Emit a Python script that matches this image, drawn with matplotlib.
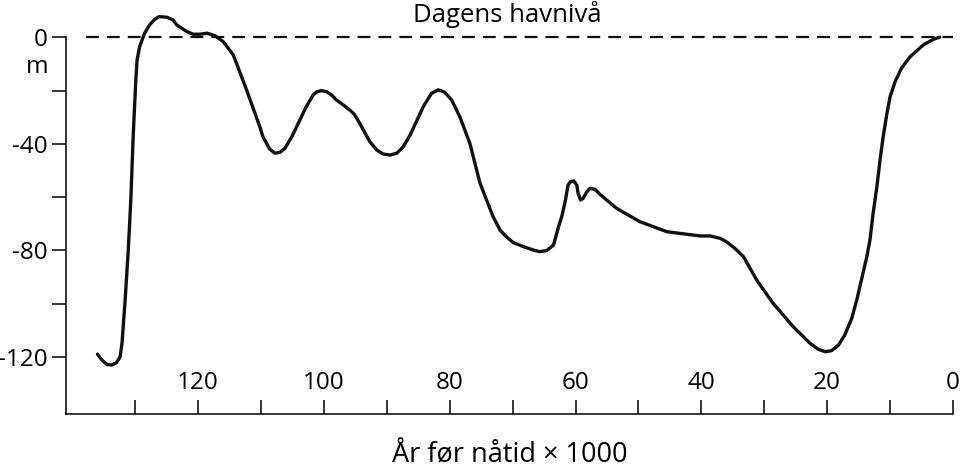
import matplotlib.pyplot as plt

plt.rcParams['font.family'] = ['Open Sans', 'DejaVu Sans']

# Years before present (x1000) and sea level (m)
years = [136.0, 135.3, 134.5, 133.8, 133.0, 132.4, 132.1, 131.6, 131.1, 130.7,
         130.3, 129.9, 129.7, 129.3, 128.5, 127.7, 126.9, 126.2, 125.0, 124.0,
         123.4, 121.8, 120.8, 119.7, 118.6, 117.3, 116.0, 114.4, 112.3, 110.2,
         109.7, 108.6, 107.8, 107.0, 106.2, 105.1, 102.8, 101.7, 101.1, 100.4,
         99.6, 98.8, 98.0, 96.9, 95.9, 95.2, 94.3, 92.7, 91.6, 90.6,
         89.5, 88.4, 87.4, 86.3, 84.2, 82.9, 81.8, 80.8, 79.7, 78.4,
         76.8, 75.2, 73.1, 72.0, 71.0, 69.9, 68.3, 66.7, 65.7, 64.6,
         63.5, 62.7, 62.2, 61.6, 61.2, 60.8, 60.3, 59.8, 59.6, 59.2,
         58.8, 58.3, 57.7, 56.9, 56.1, 53.5, 49.8, 45.5, 40.2, 38.6,
         37.0, 36.0, 34.7, 33.3, 31.2, 28.6, 25.4, 22.7, 21.4, 20.3,
         19.3, 18.2, 17.2, 16.1, 15.3, 13.7, 13.2, 12.7, 12.1, 11.6,
         11.1, 10.5, 10.0, 9.2, 8.2, 6.8, 4.7, 3.1, 2.1]
level = [-119.0, -121.2, -122.9, -123.1, -122.3, -120.0, -115.0, -98.7, -79.9, -61.1,
         -36.0, -16.0, -8.5, -3.5, 1.6, 4.7, 6.8, 7.8, 7.6, 6.6,
         4.7, 2.2, 1.2, 1.2, 1.6, 0.6, -1.6, -6.6, -19.7, -33.5,
         -37.3, -42.0, -43.5, -43.2, -41.7, -37.3, -26.0, -21.6, -20.4, -20.0,
         -20.4, -21.6, -23.5, -25.4, -27.3, -28.8, -32.3, -39.2, -42.3, -43.8,
         -44.2, -43.5, -41.1, -36.7, -26.0, -21.0, -19.7, -20.6, -23.5, -29.8,
         -39.8, -54.7, -67.4, -72.4, -74.9, -77.1, -78.6, -79.9, -80.5, -80.1,
         -78.0, -71.1, -67.4, -61.1, -55.5, -54.2, -53.9, -55.5, -58.6, -61.1,
         -60.5, -58.3, -56.7, -57.1, -59.0, -64.2, -69.2, -73.0, -74.6, -74.6,
         -75.5, -76.8, -79.2, -82.4, -91.2, -99.9, -108.7, -115.0, -117.2, -118.1,
         -117.7, -115.6, -111.8, -105.6, -98.7, -82.4, -76.1, -66.1, -56.1, -46.1,
         -37.3, -28.5, -22.3, -16.6, -11.6, -7.2, -2.8, -0.7, 0.1]

x_ticks = [130, 120, 110, 100, 90, 80, 70, 60, 50, 40, 30, 20, 10, 0]
x_labels = [120, 100, 80, 60, 40, 20, 0]
y_ticks = [0, -20, -40, -60, -80, -100, -120]
y_labels = ['0', '', '-40', '', '-80', '', '-120']

fig = plt.figure(figsize=(9.6, 4.69), dpi=100)
ax = fig.add_axes([66 / 960, 1 - 414 / 469, 887 / 960, 404 / 469])

ax.plot(years, level, color='#111111', lw=2.4, solid_capstyle='round',
        solid_joinstyle='round')

# present-day sea level
ax.plot([137.8, 0], [0, 0], color='#111111', lw=1.6,
        linestyle=(0, (5.8, 3.6)))

ax.set_xlim(141.0, 0)
ax.set_ylim(-141.5, 10.3)

for side in ['top', 'right']:
    ax.spines[side].set_visible(False)
ax.spines['left'].set_bounds(-141.5, 0)
ax.spines['left'].set_linewidth(1.1)
ax.spines['bottom'].set_linewidth(1.1)

ax.set_yticks(y_ticks)
ax.set_yticklabels(y_labels, fontsize=17.5)
ax.tick_params(axis='y', direction='out', length=10, width=1.1, pad=3)

ax.set_xticks(x_ticks)
ax.set_xticklabels([])
ax.tick_params(axis='x', direction='in', length=10, width=1.1)
for v in x_labels:
    ax.text(v, 0.077, str(v), transform=ax.get_xaxis_transform(),
            ha='center', va='center', fontsize=17.5)

fig.text(37 / 960, 1 - 67 / 469, 'm', ha='center', va='center', fontsize=17.5)
fig.text(507 / 960, 1 - 14 / 469, 'Dagens havnivå', ha='center',
         va='center', fontsize=18.5)
fig.text(510 / 960, 1 - 455 / 469, 'År før nåtid × 1000', ha='center',
         va='center', fontsize=19.5)

fig.savefig('out.png', dpi=100)
